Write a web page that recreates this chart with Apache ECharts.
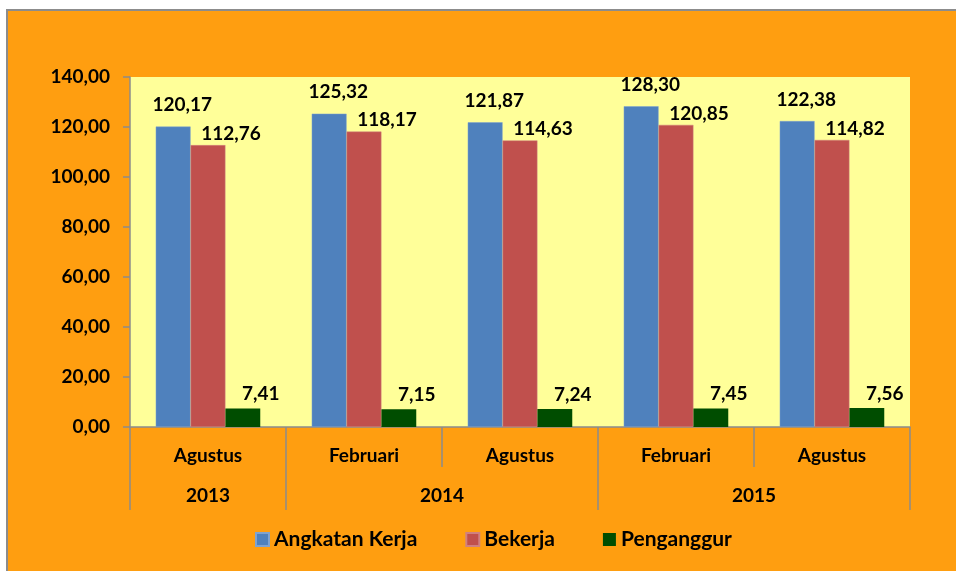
<!DOCTYPE html>
<html>
<head>
<meta charset="utf-8">
<script src="https://cdn.jsdelivr.net/npm/echarts@6/dist/echarts.min.js"></script>
<style>
html,body{margin:0;padding:0;background:#ffffff;}
#chart{width:956px;height:571px;}
</style>
</head>
<body>
<div id="chart"></div>
<script>
var months = ['Agustus', 'Februari', 'Agustus', 'Februari', 'Agustus'];
var yearSlots = ['', '2013', '', '', '2014', '', '', '', '2015', '', ''];
var yearBoundaryIdx = [0, 2, 6, 10];
var angkatanKerja = [120.17, 125.32, 121.87, 128.30, 122.38];
var bekerja = [112.76, 118.17, 114.63, 120.85, 114.82];
var penganggur = [7.41, 7.15, 7.24, 7.45, 7.56];
var seriesNames = ['Angkatan Kerja', 'Bekerja', 'Penganggur'];

var FONT = 'Lato';
function fmt(v) { return Number(v).toFixed(2).replace('.', ','); }

var chart = echarts.init(document.getElementById('chart'));
function lbl(offset) {
  return {
    show: true, position: 'top', distance: 5, offset: offset,
    formatter: function (p) { return fmt(p.value); },
    fontFamily: FONT, fontWeight: 'bold', fontSize: 19, color: '#000'
  };
}
var axisGrey = '#8C8C8C';
chart.setOption({
  backgroundColor: '#ffffff',
  animation: false,
  graphic: [{
    type: 'rect', z: -10, silent: true,
    shape: { x: 7, y: 10, width: 960, height: 570 },
    style: { fill: '#FF9E10', stroke: '#8C8C8C', lineWidth: 2 }
  }],
  legend: {
    bottom: 16, left: 250,
    itemWidth: 13, itemHeight: 13, itemGap: 48,
    icon: 'rect',
    textStyle: { fontFamily: FONT, fontWeight: 'bold', fontSize: 21, color: '#000' },
    data: seriesNames
  },
  grid: {
    left: 130, right: 46, top: 77, bottom: 144,
    show: true, backgroundColor: '#FFFF99', borderWidth: 0,
    containLabel: false
  },
  xAxis: [{
    type: 'category', data: months, position: 'bottom',
    axisLine: { show: true, lineStyle: { color: axisGrey, width: 1.5 } },
    axisTick: { show: true, interval: 0, length: 40, lineStyle: { color: axisGrey, width: 1.5 } },
    axisLabel: { interval: 0, margin: 19, fontFamily: FONT, fontWeight: 'bold', fontSize: 19, color: '#000' }
  }, {
    type: 'category', data: yearSlots, position: 'bottom', boundaryGap: false,
    axisLine: { show: false },
    axisTick: {
      show: true, length: 83, lineStyle: { color: axisGrey, width: 1.5 },
      interval: function (idx) { return yearBoundaryIdx.indexOf(idx) >= 0; }
    },
    axisLabel: { interval: 0, margin: 59, fontFamily: FONT, fontWeight: 'bold', fontSize: 19, color: '#000' }
  }],
  yAxis: {
    type: 'value', min: 0, max: 140, interval: 20,
    splitLine: { show: false },
    axisLine: { show: true, lineStyle: { color: axisGrey, width: 1.5 } },
    axisTick: { show: true, length: 7, lineStyle: { color: axisGrey, width: 1.5 } },
    axisLabel: {
      margin: 20, formatter: function (v) { return fmt(v); },
      fontFamily: FONT, fontWeight: 'bold', fontSize: 19, color: '#000'
    }
  },
  series: [{
    name: seriesNames[0], type: 'bar', data: angkatanKerja, xAxisIndex: 0,
    barGap: '0%', barCategoryGap: '33%',
    itemStyle: { color: '#4F81BD', borderColor: '#7FA3D0', borderWidth: 0.5 },
    label: lbl([9, -7])
  }, {
    name: seriesNames[1], type: 'bar', data: bekerja, xAxisIndex: 0,
    itemStyle: { color: '#C0504D', borderColor: '#D08080', borderWidth: 0.5 },
    label: lbl([23, 3])
  }, {
    name: seriesNames[2], type: 'bar', data: penganggur, xAxisIndex: 0,
    itemStyle: { color: '#004D00' },
    label: lbl([18, 0])
  }]
});
</script>
</body>
</html>
